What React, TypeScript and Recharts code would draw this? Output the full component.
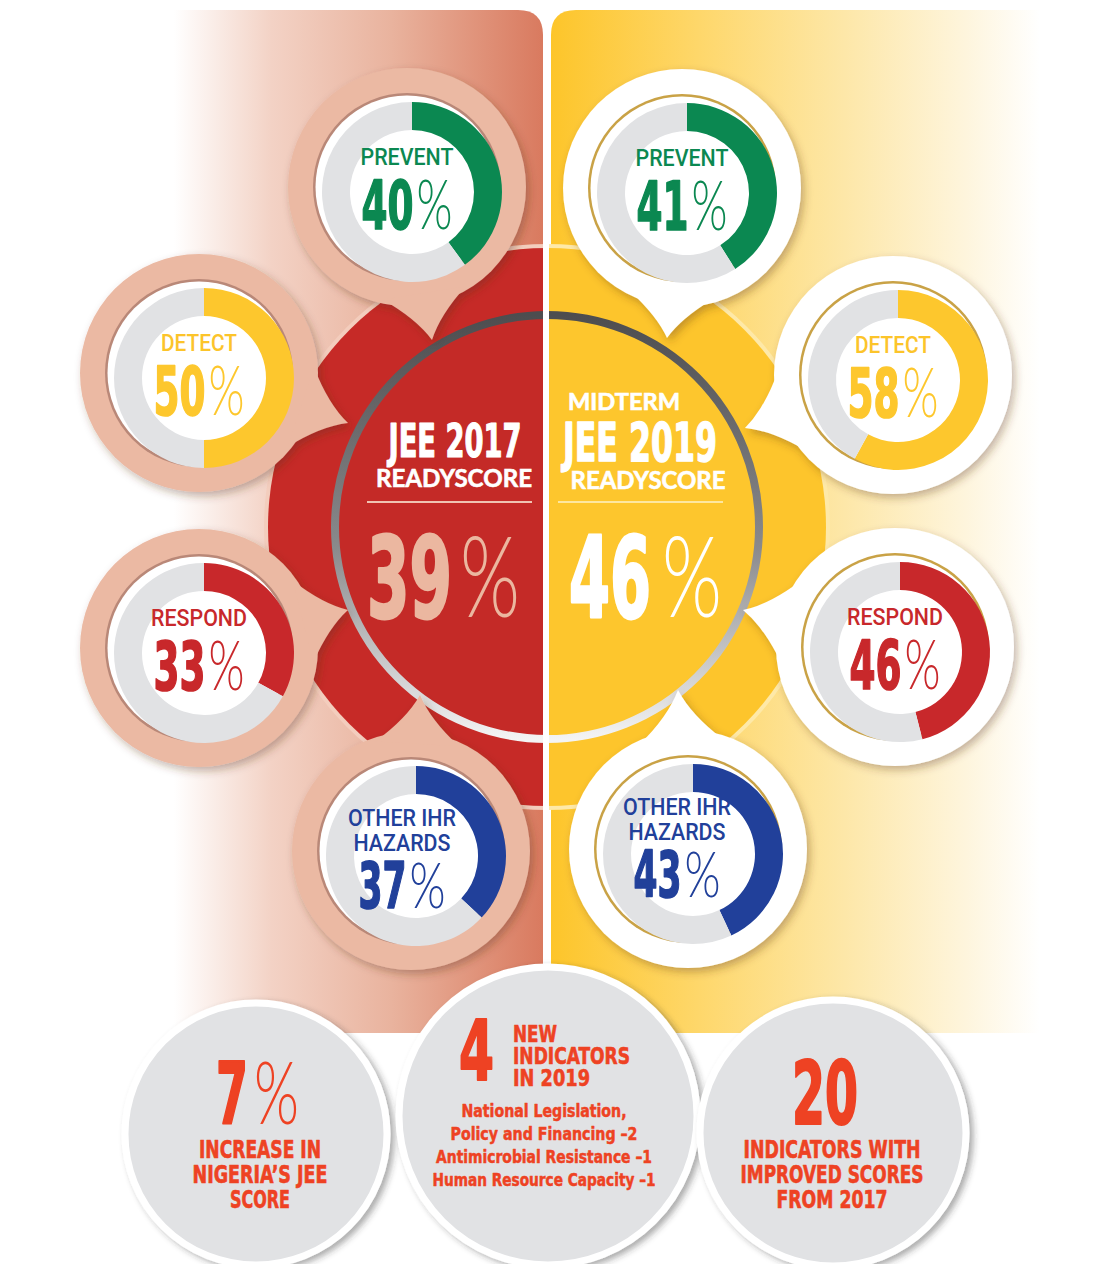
import React from 'react';
import { PieChart, Pie, Cell } from 'recharts';

// ---- data ----
const categories = ['PREVENT', 'DETECT', 'RESPOND', 'OTHER IHR HAZARDS'];
const categoryLines = [['PREVENT'], ['DETECT'], ['RESPOND'], ['OTHER IHR', 'HAZARDS']];
const scores2017 = [40, 50, 33, 37];
const scores2019 = [41, 58, 46, 43];

const readyPrefix = ['', 'MIDTERM'];
const readyTitles = ['JEE 2017', 'JEE 2019'];
const readySub = ['READYSCORE', 'READYSCORE'];
const readyScores = [39, 46];

const statValues = ['7', '4', '20'];
const statUnits = ['%', '', ''];
const statCaptions = [
  ['INCREASE IN', 'NIGERIA\u2019S JEE', 'SCORE'],
  ['NEW', 'INDICATORS', 'IN 2019'],
  ['INDICATORS WITH', 'IMPROVED SCORES', 'FROM 2017'],
];
const newIndicatorLines = [
  'National Legislation,',
  'Policy and Financing \u20132',
  'Antimicrobial Resistance \u20131',
  'Human Resource Capacity \u20131',
];

// ---- styles / layout ----
const W = 1103;
const H = 1264;
const categoryColors = ['#0b8851', '#fdc72d', '#c8282b', '#21409a'];
const TRACK = '#e1e2e4';
const RED = '#c62a27';
const YELLOW = '#fdc52c';
const ORANGE = '#ee4223';

const HEAVY = "'DejaVu Sans Condensed', 'DejaVu Sans', 'Liberation Sans Narrow', sans-serif";
const DIN = "'Roboto', 'DejaVu Sans', sans-serif";
const THIN = "'Lato', 'Open Sans', sans-serif";
const GEO = "'Lato', 'DejaVu Sans', sans-serif";

const CX = 547;
const CY = 527;

const sides = [
  {
    scores: scores2017,
    centers: [[407, 187], [199, 373], [199, 648], [411, 851]],
    tips: [[432, 340], [348, 423], [348, 610], [420, 695]],
    bubble: '#ebb9a3',
    rim: '#b98878',
    twoLine: { dx: -9, dy: -25, num: 57 },
  },
  {
    scores: scores2019,
    centers: [[682, 188], [893, 375], [895, 647], [688, 849]],
    tips: [[667, 338], [745, 428], [743, 610], [678, 690]],
    bubble: '#ffffff',
    rim: '#c9a246',
    twoLine: { dx: -11, dy: -34, num: 48 },
  },
];

const labelWidths = [[93], [76], [96], [108, 97]];

const bottomCircles = [
  { cx: 256, cy: 1134, r: 131 },
  { cx: 548, cy: 1116, r: 149 },
  { cx: 833, cy: 1133, r: 133 },
];

const donut = (v: number) => [
  { name: 'score', value: v },
  { name: 'rest', value: 100 - v },
];

function tailPath(cx: number, cy: number, tx: number, ty: number, r: number) {
  const a = Math.atan2(ty - cy, tx - cx);
  const d = Math.hypot(tx - cx, ty - cy);
  const ux = Math.cos(a), uy = Math.sin(a), nx = -uy, ny = ux;
  const s = 0.36;
  const bx = r * Math.cos(s) - 4, by = r * Math.sin(s);
  const pt = (along: number, side: number) =>
    `${(cx + ux * along + nx * side).toFixed(1)},${(cy + uy * along + ny * side).toFixed(1)}`;
  const mid = r + (d - r) * 0.35;
  return `M${pt(bx, by)} Q${pt(mid, by * 0.28)} ${pt(d, 0)} Q${pt(mid, -by * 0.28)} ${pt(bx, -by)} Z`;
}

function Heavy({ x, y, size, color, width, anchor = 'start', sw, children }: any) {
  return (
    <text x={x} y={y} fontSize={size} fontFamily={HEAVY} fontWeight="bold" fill={color}
      stroke={color} strokeWidth={sw ?? size * 0.025} strokeLinejoin="round" textAnchor={anchor}
      textLength={width} lengthAdjust="spacingAndGlyphs">{children}</text>
  );
}

function Pct({ x, y, digits, dW, pW, size, color, gap = 3 }: any) {
  return (
    <g>
      <Heavy x={x} y={y} size={size} color={color} width={dW}>{digits}</Heavy>
      <text x={x + dW + gap} y={y} fontSize={size} fontFamily={THIN} fontWeight={300} fill={color}
        textLength={pW} lengthAdjust="spacingAndGlyphs">%</text>
    </g>
  );
}

function Background() {
  return (
    <svg width={W} height={H} style={{ position: 'absolute', left: 0, top: 0 }}>
      <defs>
        <linearGradient id="lp" gradientUnits="userSpaceOnUse" x1={0} y1={0} x2={543} y2={0}>
          <stop offset="0" stopColor="#ffffff" />
          <stop offset="0.32" stopColor="#ffffff" />
          <stop offset="0.5" stopColor="#f3d2c5" />
          <stop offset="0.72" stopColor="#e9b39e" />
          <stop offset="1" stopColor="#d97a5f" />
        </linearGradient>
        <linearGradient id="rp" gradientUnits="userSpaceOnUse" x1={551} y1={0} x2={1040} y2={0}>
          <stop offset="0" stopColor="#fdc52a" />
          <stop offset="0.3" stopColor="#fed76a" />
          <stop offset="0.6" stopColor="#fde7a8" />
          <stop offset="0.85" stopColor="#fef5dd" />
          <stop offset="1" stopColor="#ffffff" />
        </linearGradient>
        <linearGradient id="ring" x1="0" y1="0" x2="0" y2="1">
          <stop offset="0" stopColor="#4d4d4f" />
          <stop offset="0.55" stopColor="#8a8a8c" />
          <stop offset="1" stopColor="#f4f4f4" />
        </linearGradient>
        <clipPath id="lh"><rect x={0} y={0} width={CX} height={H} /></clipPath>
        <clipPath id="rh"><rect x={CX} y={0} width={W - CX} height={H} /></clipPath>
        <filter id="sh" x="-20%" y="-20%" width="140%" height="140%">
          <feDropShadow dx="3" dy="4" stdDeviation="4" floodColor="#5a3020" floodOpacity="0.35" />
        </filter>
        <filter id="sh2" x="-20%" y="-20%" width="140%" height="140%">
          <feDropShadow dx="4" dy="3" stdDeviation="3" floodColor="#333" floodOpacity="0.4" />
        </filter>
      </defs>

      {/* panels */}
      <path d="M0,10 H518 Q543,10 543,35 V1033 H0 Z" fill="url(#lp)" />
      <path d="M576,10 H1103 V1033 H551 V35 Q551,10 576,10 Z" fill="url(#rp)" />

      {/* gear */}
      <g clipPath="url(#lh)">
        <circle cx={CX} cy={CY} r={283} fill="#f3cdbd" />
        <circle cx={CX} cy={CY} r={279} fill={RED} />
      </g>
      <g clipPath="url(#rh)">
        <circle cx={CX} cy={CY} r={283} fill="#fee9a8" />
        <circle cx={CX} cy={CY} r={279} fill={YELLOW} />
      </g>

      {/* centre disc */}
      <g clipPath="url(#lh)"><circle cx={CX} cy={CY} r={212} fill="#c42a27" /></g>
      <g clipPath="url(#rh)"><circle cx={CX} cy={CY} r={212} fill="#fdc62d" /></g>
      <circle cx={CX} cy={CY} r={212} fill="none" stroke="url(#ring)" strokeWidth={8} />

      {/* divider */}
      <rect x={543} y={10} width={6} height={1023} fill="#ffffff" />

      {/* bubbles */}
      {sides.map((s, si) =>
        s.centers.map(([cx, cy], i) => (
          <g key={`b${si}${i}`} filter="url(#sh)">
            <circle cx={cx} cy={cy} r={119} fill={s.bubble} />
            <path d={tailPath(cx, cy, s.tips[i][0], s.tips[i][1], 119)} fill={s.bubble} />
          </g>
        ))
      )}
      {sides.map((s, si) =>
        s.centers.map(([cx, cy], i) => (
          <g key={`w${si}${i}`}>
            <circle cx={cx} cy={cy} r={94} fill={s.rim} />
            <circle cx={cx} cy={cy} r={91.5} fill="#ffffff" />
          </g>
        ))
      )}

      {/* bottom circles */}
      {bottomCircles.map((c, i) => (
        <circle key={`c${i}`} cx={c.cx} cy={c.cy} r={c.r} fill={TRACK} stroke="#ffffff" strokeWidth={7} filter="url(#sh2)" />
      ))}
    </svg>
  );
}

function Donuts() {
  return (
    <div style={{ position: 'absolute', left: 0, top: 0 }}>
      <PieChart width={W} height={H}>
        {sides.map((s, si) =>
          s.scores.map((v, i) => (
            <Pie
              key={`p${si}${i}`}
              data={donut(v)}
              dataKey="value"
              nameKey="name"
              cx={s.centers[i][0]}
              cy={s.centers[i][1]}
              innerRadius={62}
              outerRadius={90}
              startAngle={90}
              endAngle={-270}
              stroke="none"
              isAnimationActive={false}
            >
              <Cell fill={categoryColors[i]} />
              <Cell fill={TRACK} />
            </Pie>
          ))
        )}
      </PieChart>
    </div>
  );
}

function Labels() {
  return (
    <svg width={W} height={H} style={{ position: 'absolute', left: 0, top: 0, pointerEvents: 'none' }}>
      {/* donut labels */}
      {sides.map((s, si) =>
        s.scores.map((v, i) => {
          const [cx0, cy] = s.centers[i];
          const lines = categoryLines[i];
          const two = lines.length > 1;
          const cx = two ? cx0 + s.twoLine.dx : cx0;
          const labelY = two ? cy + s.twoLine.dy : cy - 22;
          const numY = two ? cy + s.twoLine.num : cy + 42;
          const size = two ? 64 : 68;
          const dW = two ? 48 : 52;
          const pW = 36;
          const labelColor = i === 1 ? '#fcc42a' : categoryColors[i];
          return (
            <g key={`t${si}${i}`}>
              {lines.map((ln, li) => (
                <text key={li} x={cx} y={labelY + li * 25} textAnchor="middle" fontWeight={500}
                  fontSize={23} fontFamily={DIN} fill={labelColor}
                  textLength={labelWidths[i][li]} lengthAdjust="spacingAndGlyphs">{ln}</text>
              ))}
              <Pct x={cx - (dW + 3 + pW) / 2} y={numY} digits={String(v)} dW={dW} pW={pW}
                size={size} color={categoryColors[i]} />
            </g>
          );
        })
      )}

      {/* centre texts */}
      <Heavy x={455} y={457} anchor="middle" size={46} color="#fff" width={133}>{readyTitles[0]}</Heavy>
      <text x={454} y={487} textAnchor="middle" fontSize={24} fontFamily={GEO} fontWeight="bold" fill="#fff"
        stroke="#fff" strokeWidth={0.6} textLength={156} lengthAdjust="spacingAndGlyphs">{readySub[0]}</text>
      <line x1={367} x2={532} y1={502} y2={502} stroke="#f0c3b2" strokeWidth={2} />
      <Pct x={367} y={617} digits={String(readyScores[0])} dW={85} pW={60} gap={8} size={113} color="#ebb7a0" />

      <text x={624} y={410} textAnchor="middle" fontSize={22} fontFamily={GEO} fontWeight="bold" fill="#fff"
        stroke="#fff" strokeWidth={0.6} textLength={112} lengthAdjust="spacingAndGlyphs">{readyPrefix[1]}</text>
      <Heavy x={640} y={461} anchor="middle" size={54} color="#fff" width={154}>{readyTitles[1]}</Heavy>
      <text x={648} y={489} textAnchor="middle" fontSize={24} fontFamily={GEO} fontWeight="bold" fill="#fff"
        stroke="#fff" strokeWidth={0.6} textLength={155} lengthAdjust="spacingAndGlyphs">{readySub[1]}</text>
      <line x1={558} x2={723} y1={502} y2={502} stroke="#fde7a0" strokeWidth={2} />
      <Pct x={569} y={617} digits={String(readyScores[1])} dW={82} pW={60} gap={11} size={113} color="#ffffff" />

      {/* bottom left */}
      <Pct x={216} y={1124} digits={statValues[0]} dW={32} pW={45} gap={6} size={86} color={ORANGE} />
      {statCaptions[0].map((ln, i) => (
        <Heavy key={`s0${i}`} x={260} y={1158 + i * 25} anchor="middle" size={24} color={ORANGE}
          width={[122, 135, 60][i]}>{ln}</Heavy>
      ))}
      {statUnits[1]}

      {/* bottom middle */}
      <Heavy x={459} y={1080} size={84} color={ORANGE} width={35}>{statValues[1]}</Heavy>
      {statCaptions[1].map((ln, i) => (
        <Heavy key={`s1${i}`} x={513} y={1042 + i * 22} size={23} color={ORANGE}
          width={[44, 117, 77][i]}>{ln}</Heavy>
      ))}
      {newIndicatorLines.map((ln, i) => (
        <Heavy key={`n${i}`} x={544} y={1117 + i * 23} anchor="middle" size={18} color={ORANGE} sw={0.5}
          width={[165, 187, 216, 223][i]}>{ln}</Heavy>
      ))}

      {/* bottom right */}
      <Heavy x={825} y={1124} anchor="middle" size={88} color={ORANGE} width={66}>{statValues[2]}</Heavy>
      {statCaptions[2].map((ln, i) => (
        <Heavy key={`s2${i}`} x={832} y={1158 + i * 25} anchor="middle" size={24} color={ORANGE}
          width={[177, 183, 111][i]}>{ln}</Heavy>
      ))}
    </svg>
  );
}

export default function App() {
  return (
    <div style={{ position: 'absolute', left: 0, top: 0, width: W, height: H, overflow: 'hidden', background: '#fff' }}
      aria-label={categories.join(', ')}>
      <Background />
      <Donuts />
      <Labels />
    </div>
  );
}
